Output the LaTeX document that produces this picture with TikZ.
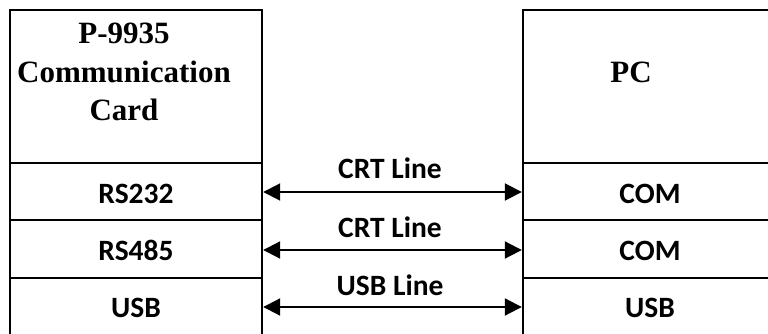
\documentclass[tikz,border=0pt]{standalone}
\usepackage{fontspec}
\setmainfont{Liberation Serif}
\newfontfamily\calib{Carlito}
\usetikzlibrary{arrows.meta}
\begin{document}
\begin{tikzpicture}[x=1pt,y=-1pt,
  box/.style={draw=black, line width=2pt},
  title/.style={font=\fontsize{31}{38.5}\selectfont\bfseries, align=center, inner sep=0pt},
  port/.style={font=\calib\fontsize{29.5}{32}\selectfont\bfseries, inner sep=0pt, anchor=base},
  link/.style={line width=2pt, {Triangle[length=17pt,width=17pt]}-{Triangle[length=17pt,width=17pt]}, shorten <=0.2pt, shorten >=0.2pt}
]
\useasboundingbox (0,0) rectangle (768,334);
\clip (0,0) rectangle (768,334);
% left card
\draw[box] (10,10) rectangle (262,360);
\draw[box] (10,163) -- (262,163);
\draw[box] (10,220) -- (262,220);
\draw[box] (10,278) -- (262,278);
% right PC
\draw[box] (523,10) rectangle (790,360);
\draw[box] (523,163) -- (790,163);
\draw[box] (523,220) -- (790,220);
\draw[box] (523,278) -- (790,278);
% titles
\node[title] (card) at (124,72) {P-9935\\Communication\\Card};
\node[title] (pc) at (631,72) {PC};
% ports
\node[port] (rs232) at (136,203) {RS232};
\node[port] (rs485) at (136,260) {RS485};
\node[port] (usbl) at (136,317) {USB};
\node[port] (com1) at (650,203) {COM};
\node[port] (com2) at (650,260) {COM};
\node[port] (usbr) at (650,317) {USB};
% connection endpoints
\coordinate (a1) at (263,192);
\coordinate (b1) at (522,192);
\coordinate (a2) at (263,250);
\coordinate (b2) at (522,250);
\coordinate (a3) at (263,307);
\coordinate (b3) at (522,307);
\draw[link] (a1) -- (b1);
\draw[link] (a2) -- (b2);
\draw[link] (a3) -- (b3);
\node[port] (l1) at (390,178) {CRT Line};
\node[port] (l2) at (390,237) {CRT Line};
\node[port] (l3) at (390,295) {USB Line};
\end{tikzpicture}
\end{document}
